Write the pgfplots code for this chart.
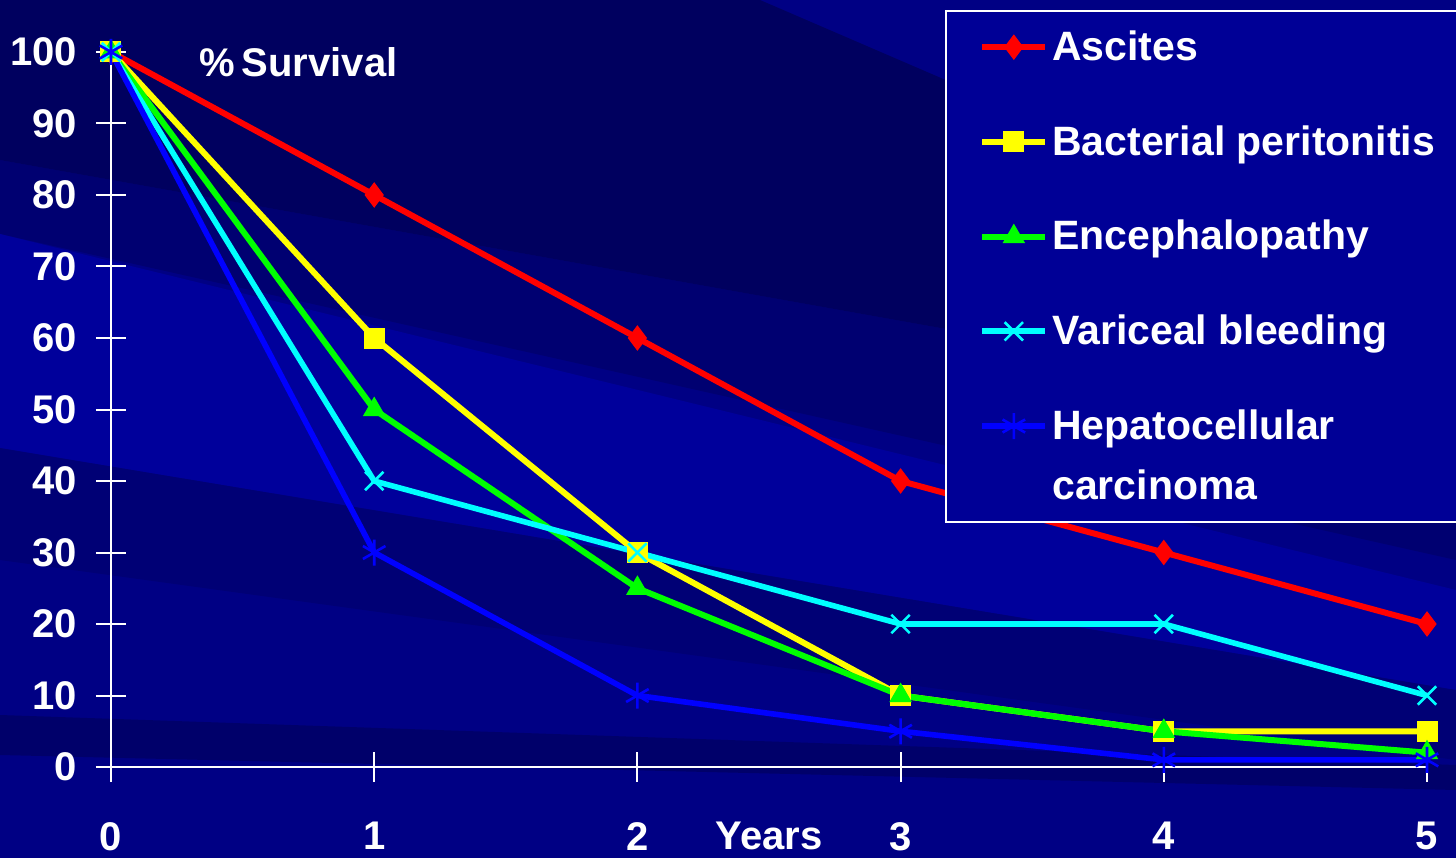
\documentclass[border=0pt]{standalone}
\usepackage{pgfplots}
\pgfplotsset{compat=1.18}
\usepackage{fontspec}
\setmainfont{Liberation Sans}
\definecolor{bgnavy}{RGB}{0,0,132}
\definecolor{bgdark}{RGB}{0,0,95}
\definecolor{bglight}{RGB}{0,0,155}
\definecolor{legblue}{RGB}{0,0,150}
\definecolor{cred}{RGB}{255,0,0}
\definecolor{cyel}{RGB}{255,255,0}
\definecolor{cgrn}{RGB}{0,255,0}
\definecolor{ccyan}{RGB}{0,255,255}
\definecolor{cblue}{RGB}{0,0,255}
\pgfplotsset{
  stdimg/.style={legend image code/.code={\draw[mark repeat=2,mark phase=2,##1] plot coordinates {(0pt,0pt) (15.75pt,0pt) (31.5pt,0pt)};}},
  hccimg/.style={legend image code/.code={\draw[mark repeat=2,mark phase=2,##1] plot coordinates {(0pt,15pt) (15.75pt,15pt) (31.5pt,15pt)};}},
}
\begin{document}
\begin{tikzpicture}
\useasboundingbox (0pt,0pt) rectangle (728pt,429pt);
\fill[bgnavy] (0pt,0pt) rectangle (728pt,429pt);
\begin{scope}[x=0.5pt,y=-0.5pt,shift={(0pt,429pt)}]
  \fill[bgdark] (0,0) -- (760,0) -- (1456,300) -- (1456,420) -- (0,160) -- cycle;
  \fill[bgdark,opacity=0.5] (0,160) -- (1456,420) -- (1456,560) -- (0,234) -- cycle;
  \fill[bglight] (0,234) -- (1456,590) -- (1456,690) -- (0,448) -- cycle;
  \fill[bgdark,opacity=0.4] (0,448) -- (1456,690) -- (1456,760) -- (0,560) -- cycle;
  \fill[bgdark,opacity=0.7] (0,715) -- (0,755) -- (1456,790) -- (1456,765) -- cycle;
\end{scope}
\begin{axis}[
  at={(55.5pt,45.5pt)}, anchor=south west,
  width=658pt, height=357.5pt, scale only axis,
  xmin=0, xmax=5, ymin=0, ymax=100,
  axis lines=left,
  axis line style={white, line width=1pt, -},
  xtick={0,1,2,3,4,5}, ytick={0,10,...,100},
  tick align=center, major tick length=15pt,
  tick style={white, line width=1pt},
  ticklabel style={text=white, font=\fontsize{20}{24}\selectfont\bfseries},
  /pgf/number format/assume math mode=true,
  yticklabel style={xshift=-6pt},
  xticklabel style={yshift=-16.5pt},
  clip=false,
  stdimg,
  legend style={at={(0.634,1.059)}, anchor=north west, fill=legblue, draw=white, line width=1pt,
    text=white, font=\fontsize{20.5}{30}\selectfont\bfseries,
    inner xsep=16.5pt, inner ysep=8pt, row sep=27pt,
    cells={anchor=west, align=left}},
  legend cell align=left,
]
\addplot[cred, line width=3pt, mark=diamond*, mark size=6pt, mark options={solid, fill=cred, line width=0.5pt}]
  coordinates {(0,100) (1,80) (2,60) (3,40) (4,30) (5,20)};
\addlegendentry{Ascites}
\addplot[cyel, line width=3pt, mark=square*, mark size=5pt, mark options={solid, fill=cyel, line width=0.5pt}]
  coordinates {(0,100) (1,60) (2,30) (3,10) (4,5) (5,5)};
\addlegendentry{Bacterial peritonitis}
\addplot[cgrn, line width=3pt, mark=triangle*, mark size=6pt, mark options={solid, fill=cgrn, line width=0.5pt}]
  coordinates {(0,100) (1,50) (2,25) (3,10) (4,5) (5,2)};
\addlegendentry{Encephalopathy}
\addplot[ccyan, line width=2.8pt, mark=x, mark size=6.5pt, mark options={solid, line width=1.3pt}]
  coordinates {(0,100) (1,40) (2,30) (3,20) (4,20) (5,10)};
\addlegendentry{Variceal bleeding}
\addplot[cblue, line width=2.8pt, mark=asterisk, mark size=6.5pt, mark options={solid, line width=1.3pt}, hccimg]
  coordinates {(0,100) (1,30) (2,10) (3,5) (4,1) (5,1)};
\addlegendentry{Hepatocellular\\carcinoma}
\node[anchor=west, text=white, font=\fontsize{20}{24}\selectfont\bfseries] at (axis cs:0.31,98.6) {\%\,Survival};
\node[anchor=base, text=white, font=\fontsize{20}{24}\selectfont\bfseries, inner sep=1pt] at (axis cs:2.5,-11.6) {Years};
\end{axis}
\end{tikzpicture}
\end{document}
